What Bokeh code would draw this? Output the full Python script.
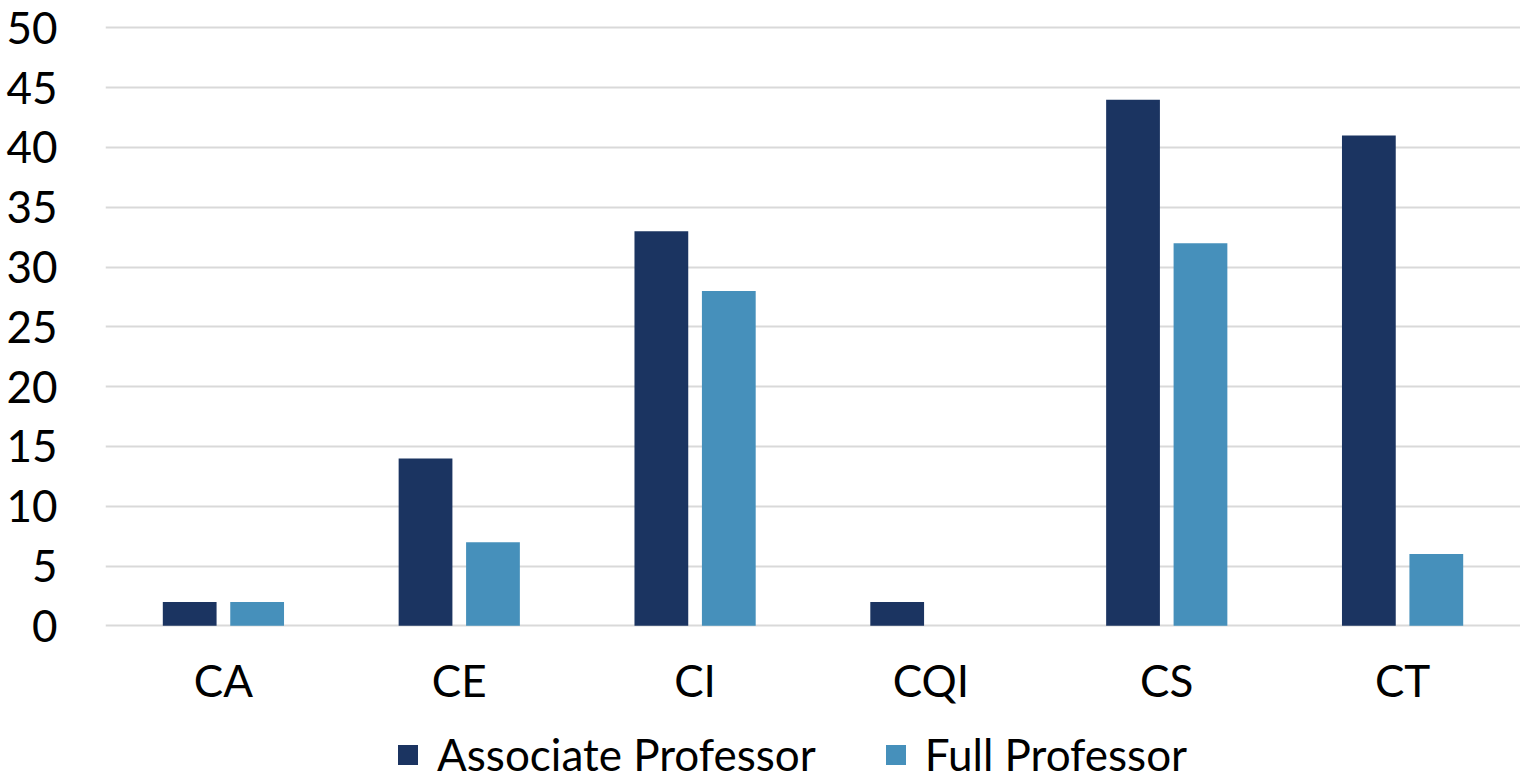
from bokeh.plotting import figure
from bokeh.models import ColumnDataSource, FactorRange, Range1d, Legend, LegendItem, FixedTicker
from bokeh.transform import dodge
from bokeh.embed import file_html
from bokeh.resources import INLINE

categories = ["CA", "CE", "CI", "CQI", "CS", "CT"]
associate = [2, 14, 33, 2, 44, 41]
full = [2, 7, 28, 0, 32, 6]
y_ticks = [0, 5, 10, 15, 20, 25, 30, 35, 40, 45, 50]
series_names = ["Associate Professor", "Full Professor"]
colors = ["#1b3461", "#4690bb"]
FONT = "Lato"

source = ColumnDataSource(data=dict(cat=categories, assoc=associate, full=full))

p = figure(x_range=FactorRange(*categories), y_range=Range1d(-12.93, 50.2),
           frame_width=1415, frame_height=755,
           output_backend="svg", toolbar_location=None,
           min_border_left=105, min_border_right=0, min_border_top=25, min_border_bottom=0)

r1 = p.vbar(x=dodge("cat", -0.143, range=p.x_range), top="assoc", width=0.228,
            source=source, fill_color=colors[0], line_color=None)
r2 = p.vbar(x=dodge("cat", 0.143, range=p.x_range), top="full", width=0.228,
            source=source, fill_color=colors[1], line_color=None)

p.outline_line_color = None
p.xgrid.grid_line_color = None
p.ygrid.grid_line_color = "#d9d9d9"
p.ygrid.grid_line_width = 2
p.yaxis.ticker = FixedTicker(ticks=y_ticks)

for ax in (p.xaxis, p.yaxis):
    ax.axis_line_color = None
    ax.major_tick_line_color = None
    ax.minor_tick_line_color = None
    ax.major_label_text_font = FONT
    ax.major_label_text_font_size = "44px"
    ax.major_label_text_color = "#000000"

p.yaxis.major_label_standoff = 42
p.xaxis.major_label_standoff = 22
p.xaxis.fixed_location = 0

legend = Legend(items=[LegendItem(label=series_names[0], renderers=[r1]),
                       LegendItem(label=series_names[1], renderers=[r2])],
                orientation="horizontal", location=(290, 0),
                label_text_font=FONT, label_text_font_size="44px",
                label_text_color="#000000",
                glyph_width=25, glyph_height=25, spacing=67, padding=0,
                margin=0, border_line_color=None, background_fill_alpha=0,
                label_standoff=17)
p.add_layout(legend, "center")

open("out.html", "w").write(file_html(p, INLINE))
